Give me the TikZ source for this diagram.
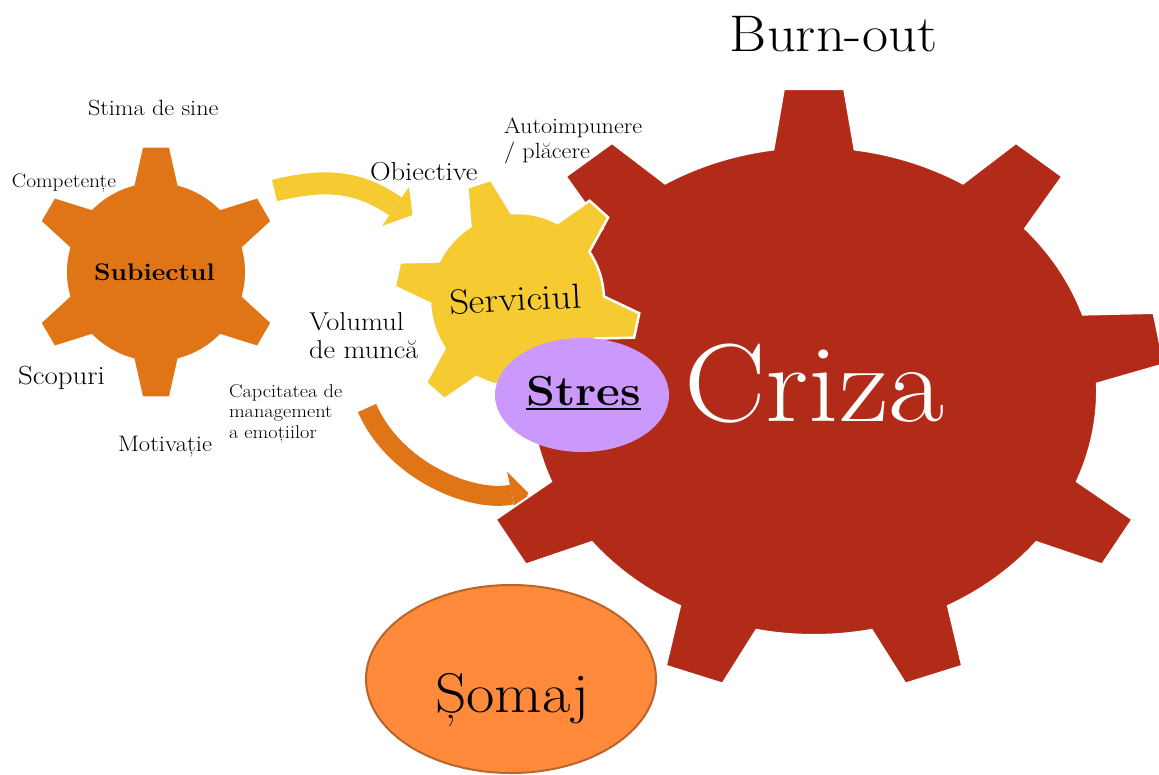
\documentclass[tikz,border=0pt]{standalone}
\usepackage{fontspec}
\setmainfont{Latin Modern Roman}[FakeStretch=1.1]
\definecolor{gOrange}{HTML}{E07517}
\definecolor{gYellow}{HTML}{F5CB31}
\definecolor{gRed}{HTML}{B22B18}
\definecolor{gLav}{HTML}{CB99FC}
\definecolor{gSomaj}{HTML}{FF8A3B}
\definecolor{gSomajB}{HTML}{BA642A}
% #1 style, #2 centre, #3 xscale, #4 teeth, #5 first tooth angle,
% #6 body radius, #7 outer radius, #8 base half width, #9 tip half width
\newcommand\mygear[9]{%
  \begin{scope}[shift={#2}, yscale=-1, xscale=#3]
    \pgfmathsetmacro\gstep{360/#4}
    \pgfmathsetmacro\gbb{asin(#8/#6)}
    \pgfmathsetmacro\gbt{asin(#9/#7)}
    \pgfmathtruncatemacro\glast{#4-1}
    \path[#1] ({#5-\gbb}:#6)
      \foreach \k in {0,...,\glast}{
        -- ({#5+\k*\gstep-\gbt}:#7) -- ({#5+\k*\gstep+\gbt}:#7)
        -- ({#5+\k*\gstep+\gbb}:#6)
        arc[start angle={#5+\k*\gstep+\gbb}, end angle={#5+(\k+1)*\gstep-\gbb}, radius=#6]
      } -- cycle;
  \end{scope}}
\begin{document}
\begin{tikzpicture}[x=1pt,y=-1pt,
  every node/.style={inner sep=0pt, outer sep=0pt},
  lbl/.style={anchor=base west, text=black},
  mlbl/.style={anchor=north west, align=left, text=black},
  band/.style={line width=#1, line cap=butt}]
\useasboundingbox (0,0) rectangle (1159,774);

% curved arrow (yellow)
\coordinate (ya) at (274.5,190.5);
\coordinate (yb) at (395.5,206.5);
\coordinate (yh1) at (409,187);
\coordinate (yh2) at (412.5,215);
\coordinate (yh3) at (382,226);
\draw[gYellow, band=22] (ya) .. controls (322,179.2) and (356,179.1) .. (yb);
\fill[gYellow] (yh1) -- (yh2) -- (yh3) -- cycle;
% curved arrow (orange)
\coordinate (oa) at (367,408);
\coordinate (ob) at (512,494.5);
\coordinate (oh1) at (507,471.5);
\coordinate (oh2) at (528.5,493);
\coordinate (oh3) at (517,517.5);
\draw[gOrange, band=20] (oa) .. controls (395,472) and (473,503) .. (ob);
\fill[gOrange] (oh1) -- (oh2) -- (oh3) -- cycle;

% gears
\mygear{fill=gOrange}{(156,272)}{1}{6}{90}{89}{125}{21.5}{13}
\mygear{fill=gRed, draw=white, line width=2}{(814,391)}{1.16}{9}{90}{244}{303}{35}{26}
\mygear{fill=gYellow, draw=white, line width=2.5}{(517,300)}{1}{6}{48}{87}{123}{21.5}{12.5}

% ellipses
\fill[gLav] (582,395) ellipse [x radius=87pt, y radius=57pt];
\draw[fill=gSomaj, draw=gSomajB, line width=2] (511,679) ellipse [x radius=145pt, y radius=94pt];

% texts
\node[anchor=base, font=\fontsize{51.5}{51.5}\selectfont] (burn) at (833.5,51) {Burn-out};
\node[lbl, font=\fontsize{22}{22}\selectfont] (stima) at (88,115) {Stima de sine};
\node[lbl, font=\fontsize{19.5}{19.5}\selectfont] (comp) at (12,187) {Competențe};
\node[lbl, font=\fontsize{26.3}{26.3}\selectfont] (scop) at (18,384) {Scopuri};
\node[lbl, font=\fontsize{22.4}{22.4}\selectfont] (motiv) at (118,451) {Motivație};
\node[anchor=base, font=\bfseries\fontsize{24}{24}\selectfont] (subj) at (154.5,280) {Subiectul};
\node[lbl, font=\fontsize{26}{26}\selectfont] (obj) at (370,180) {Obiective};
\node[mlbl, font=\fontsize{22}{25}\selectfont] (auto) at (504,118) {Autoimpunere\\/ plăcere};
\node[anchor=base, rotate=3, font=\fontsize{35}{35}\selectfont] (serv) at (516,311) {Serviciul};
\node[mlbl, font=\fontsize{25.8}{28}\selectfont] (vol) at (309,313) {Volumul\\de muncă};
\node[mlbl, font=\fontsize{18.5}{20.5}\selectfont] (cap) at (229,384.2) {Capcitatea de\\management\\a emoțiilor};
\node[lbl, text=white, font=\fontsize{111}{111}\selectfont] (criza) at (684,421) {Criza};
\node[anchor=base, font=\bfseries\fontsize{42}{42}\selectfont] (stres) at (583.5,405) {Stres};
\draw[line width=2] ([yshift=-4pt]stres.base west) -- ([yshift=-4pt]stres.base east);
\node[lbl, font=\fontsize{56}{56}\selectfont] (somaj) at (435,712) {Șomaj};
\end{tikzpicture}
\end{document}
